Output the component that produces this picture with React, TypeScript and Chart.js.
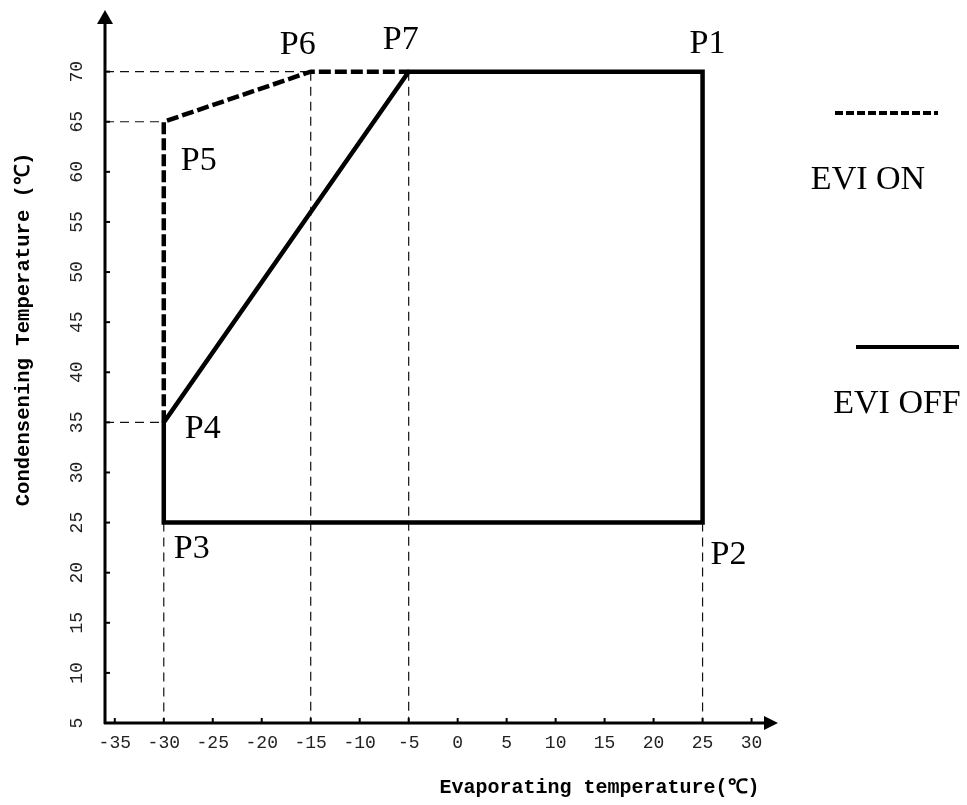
import React, { useEffect, useRef } from 'react';
import { Chart, registerables } from 'chart.js';

Chart.register(...registerables);

// ---- data ----
const xTicks = [-35, -30, -25, -20, -15, -10, -5, 0, 5, 10, 15, 20, 25, 30];
const yTicks = [5, 10, 15, 20, 25, 30, 35, 40, 45, 50, 55, 60, 65, 70];
const xRange = [-36.0, 32.7];
const yRange = [5, 76.15];

const pointNames = ['P1', 'P2', 'P3', 'P4', 'P5', 'P6', 'P7'];
const pointX = [25, 25, -30, -30, -30, -15, -5];
const pointY = [70, 25, 25, 35, 65, 70, 70];

const eviOffPath = ['P3', 'P4', 'P7', 'P1', 'P2', 'P3'];
const eviOnPath = ['P4', 'P5', 'P6', 'P7'];
const hGuides = ['P6', 'P5', 'P4'];
const vGuides = ['P3', 'P6', 'P7', 'P2'];

const legendLabels = ['EVI ON', 'EVI OFF'];
const xTitle = 'Evaporating temperature(℃)';
const yTitle = 'Condensening Temperature (℃)';

// ---- styling (label offsets in px relative to the point) ----
const labelOffsets: Record<string, [number, number]> = {
  P1: [5, -30],
  P2: [26, 30],
  P3: [28, 24],
  P4: [39, 5],
  P5: [35, 37],
  P6: [-13, -29],
  P7: [-8, -34],
};

const pt = (n: string) => {
  const i = pointNames.indexOf(n);
  return { x: pointX[i], y: pointY[i] };
};

const guideStyle = {
  borderColor: '#111',
  borderWidth: 1.2,
  borderDash: [9, 6],
  pointRadius: 0,
  showLine: true,
  order: 5,
};

const overlay = {
  id: 'overlay',
  afterDraw(chart: any) {
    const { ctx, chartArea: a, scales } = chart;
    const x = scales.x;
    const y = scales.y;
    ctx.save();
    ctx.fillStyle = '#000';
    ctx.strokeStyle = '#000';

    const x0 = a.left;
    const y0 = a.bottom;
    // axes
    ctx.lineWidth = 3;
    ctx.setLineDash([]);
    ctx.beginPath();
    ctx.moveTo(x0, y0 + 1);
    ctx.lineTo(x0, a.top + 10);
    ctx.stroke();
    ctx.beginPath();
    ctx.moveTo(x0 - 1, y0);
    ctx.lineTo(a.right - 10, y0);
    ctx.stroke();
    // arrow heads
    ctx.beginPath();
    ctx.moveTo(x0, a.top);
    ctx.lineTo(x0 - 8, a.top + 14);
    ctx.lineTo(x0 + 8, a.top + 14);
    ctx.closePath();
    ctx.fill();
    ctx.beginPath();
    ctx.moveTo(a.right, y0);
    ctx.lineTo(a.right - 14, y0 - 7);
    ctx.lineTo(a.right - 14, y0 + 7);
    ctx.closePath();
    ctx.fill();

    // ticks + labels
    ctx.lineWidth = 2;
    ctx.font = '18px "Liberation Mono", monospace';
    ctx.fillStyle = '#222';
    ctx.textAlign = 'center';
    ctx.textBaseline = 'alphabetic';
    xTicks.forEach((v) => {
      const px = x.getPixelForValue(v);
      ctx.beginPath();
      ctx.moveTo(px, y0);
      ctx.lineTo(px, y0 - 5);
      ctx.stroke();
      ctx.fillText(String(v), px, y0 + 25);
    });
    yTicks.forEach((v) => {
      const py = y.getPixelForValue(v);
      if (v !== yRange[0]) {
        ctx.beginPath();
        ctx.moveTo(x0, py);
        ctx.lineTo(x0 + 5, py);
        ctx.stroke();
      }
      ctx.save();
      ctx.translate(x0 - 23, py);
      ctx.rotate(-Math.PI / 2);
      ctx.fillText(String(v), 0, 0);
      ctx.restore();
    });

    // axis titles
    ctx.fillStyle = '#000';
    ctx.font = 'bold 20px "Liberation Mono", monospace';
    ctx.fillText(xTitle, (x0 + a.right) / 2 + 158, y0 + 70);
    ctx.font = 'bold 20.6px "Liberation Mono", monospace';
    ctx.save();
    ctx.translate(29, (a.top + y0) / 2 - 37);
    ctx.rotate(-Math.PI / 2);
    ctx.fillText(yTitle, 0, 0);
    ctx.restore();

    // point labels
    ctx.font = '34px "Liberation Serif", serif';
    ctx.fillStyle = '#000';
    pointNames.forEach((n, i) => {
      const px = x.getPixelForValue(pointX[i]);
      const py = y.getPixelForValue(pointY[i]);
      const [dx, dy] = labelOffsets[n];
      ctx.fillText(n, px + dx, py + dy + 11);
    });

    // legend
    const lx = a.right + 57;
    ctx.lineWidth = 4;
    ctx.setLineDash([8, 3]);
    ctx.beginPath();
    ctx.moveTo(lx, 113);
    ctx.lineTo(lx + 103, 113);
    ctx.stroke();
    ctx.setLineDash([]);
    ctx.beginPath();
    ctx.moveTo(lx + 21, 347);
    ctx.lineTo(lx + 124, 347);
    ctx.stroke();
    ctx.font = '34px "Liberation Serif", serif';
    ctx.fillText(legendLabels[0], lx + 33, 189);
    ctx.fillText(legendLabels[1], lx + 62, 413);

    ctx.restore();
  },
};

export default function App() {
  const ref = useRef<HTMLCanvasElement>(null);
  useEffect(() => {
    const datasets: any[] = [
      {
        label: legendLabels[1],
        data: eviOffPath.map(pt),
        borderColor: '#000',
        borderWidth: 4.5,
        pointRadius: 0,
        showLine: true,
        borderJoinStyle: 'miter',
        borderCapStyle: 'square',
        order: 0,
      },
      {
        label: legendLabels[0],
        data: eviOnPath.map(pt),
        borderColor: '#000',
        borderWidth: 4.5,
        borderDash: [12, 4],
        pointRadius: 0,
        showLine: true,
        order: 1,
      },
      ...hGuides.map((n) => ({
        ...guideStyle,
        label: 'h' + n,
        data: [{ x: xRange[0], y: pt(n).y }, pt(n)],
      })),
      ...vGuides.map((n) => ({
        ...guideStyle,
        label: 'v' + n,
        data: [pt(n), { x: pt(n).x, y: yRange[0] }],
      })),
    ];
    const chart = new Chart(ref.current as HTMLCanvasElement, {
      type: 'scatter',
      data: { datasets },
      options: {
        animation: false,
        responsive: true,
        maintainAspectRatio: false,
        layout: { padding: { left: 105, right: 189, top: 10, bottom: 82 } },
        plugins: { legend: { display: false }, tooltip: { enabled: false } },
        scales: {
          x: { type: 'linear', min: xRange[0], max: xRange[1], display: false },
          y: { type: 'linear', min: yRange[0], max: yRange[1], display: false },
        },
      },
      plugins: [overlay],
    });
    return () => chart.destroy();
  }, []);
  return (
    <div style={{ position: 'fixed', left: 0, top: 0, width: 967, height: 805, background: '#fff' }}>
      <canvas ref={ref} />
    </div>
  );
}
